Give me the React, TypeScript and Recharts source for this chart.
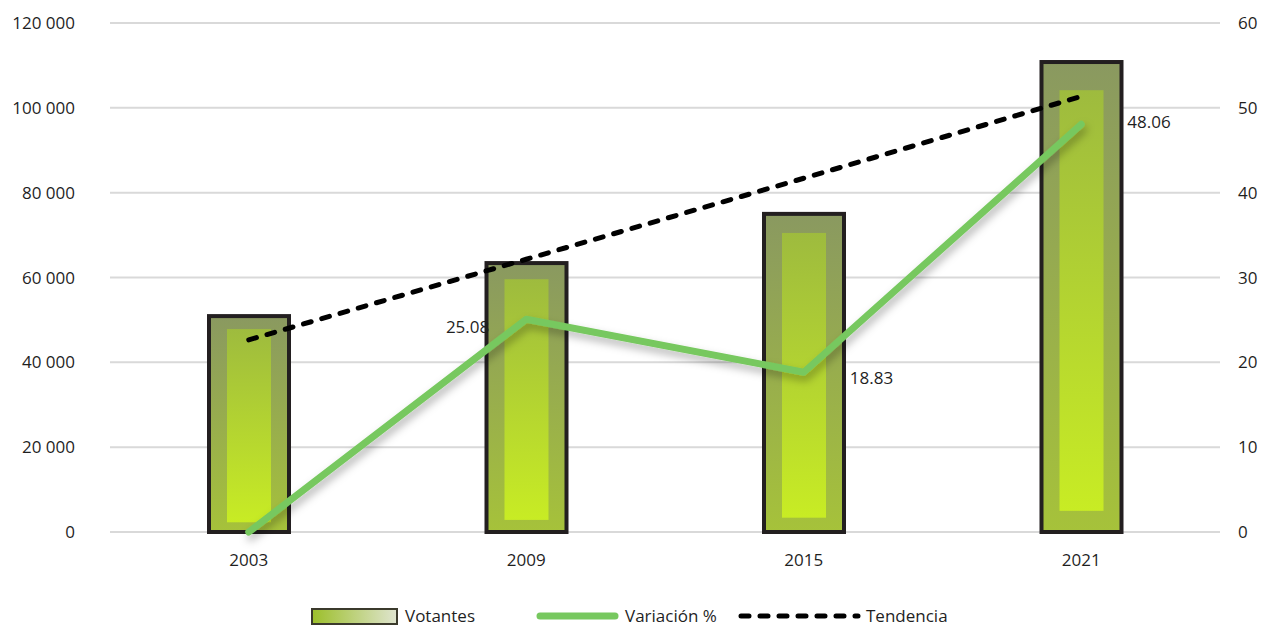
import { ComposedChart, Bar, Line, XAxis, YAxis, CartesianGrid, LabelList } from 'recharts';

const years = ['2003', '2009', '2015', '2021'];
const votantes = [50900, 63400, 75000, 110800];
const variacion = [0, 25.08, 18.83, 48.06];
const tendencia = [45300, 64300, 83400, 102700];
const leftTicks = [0, 20000, 40000, 60000, 80000, 100000, 120000];
const rightTicks = [0, 10, 20, 30, 40, 50, 60];

// which side each % label sits on (none for the first point), and its vertical nudge
const labelSide = ['none', 'left', 'right', 'right'];
const labelNudge = [0, 8, 6, -2];

const data = years.map((year, i) => ({
    year,
    votantes: votantes[i],
    variacion: variacion[i],
    tendencia: tendencia[i],
}));

const FONT = '"Open Sans", "Noto Sans", sans-serif';
const TEXT = '#1f1f1f';

const fmtThousands = (v: number) => v.toLocaleString('en-US').replace(/,/g, ' ');

function BarShape(props: any) {
    const { x, y, width, height } = props;
    if (!height || height <= 0) return null;
    const ix = x + width * 0.225;
    const iw = width * 0.55;
    const iy = y + height * 0.06;
    const ih = height * (1 - 0.06 - 0.045);
    return (
        <g>
            <rect x={x} y={y} width={width} height={height} fill="url(#outerGrad)" stroke="#231f20" strokeWidth={4} />
            <rect x={ix} y={iy} width={iw} height={ih} fill="url(#innerGrad)" />
        </g>
    );
}

function PctLabel(props: any) {
    const { x, y, value, index } = props;
    const side = labelSide[index];
    if (side === 'none') return null;
    const tx = side === 'left' ? x - 37 : x + 46;
    return (
        <text
            x={tx}
            y={y + labelNudge[index]}
            dy="0.35em"
            textAnchor={side === 'left' ? 'end' : 'start'}
            fontFamily={FONT}
            fontSize={17}
            fill={TEXT}
        >
            {Number(value).toFixed(2)}
        </text>
    );
}

function LegendBox() {
    const item = { position: 'absolute' as const, top: 604, fontFamily: FONT, fontSize: 17, color: TEXT, lineHeight: '24px' };
    return (
        <>
            <svg style={{ position: 'absolute', left: 0, top: 600, pointerEvents: 'none' }} width={1276} height={29}>
                <defs>
                    <linearGradient id="legGrad" x1="0" y1="0" x2="1" y2="0">
                        <stop offset="0%" stopColor="#9cbf2a" />
                        <stop offset="100%" stopColor="#dfe4cf" />
                    </linearGradient>
                </defs>
                <rect x={312} y={9} width={85} height={15} fill="url(#legGrad)" stroke="#3b3a2c" strokeWidth={2} />
                <line x1={540} y1={16} x2={615} y2={16} stroke="#77c85f" strokeWidth={7} strokeLinecap="round" />
                <line x1={741} y1={16} x2={858} y2={16} stroke="#000" strokeWidth={5} strokeDasharray="8 11" strokeLinecap="round" />
            </svg>
            <div style={{ ...item, left: 405 }}>Votantes</div>
            <div style={{ ...item, left: 625 }}>Variación %</div>
            <div style={{ ...item, left: 866 }}>Tendencia</div>
        </>
    );
}

export default function App() {
    return (
        <div style={{ position: 'absolute', left: 0, top: 0, width: 1276, height: 629, background: '#fff' }}>
            <ComposedChart
                width={1276}
                height={629}
                data={data}
                margin={{ top: 23, right: 0, bottom: 67, left: 0 }}
                barCategoryGap={0}
            >
                <defs>
                    <linearGradient id="outerGrad" x1="0" y1="0" x2="0" y2="1">
                        <stop offset="0%" stopColor="#8a9960" />
                        <stop offset="100%" stopColor="#a6c23a" />
                    </linearGradient>
                    <linearGradient id="innerGrad" x1="0" y1="0" x2="0" y2="1">
                        <stop offset="0%" stopColor="#9ebb3e" />
                        <stop offset="100%" stopColor="#c8ec24" />
                    </linearGradient>
                    <filter id="lineShadow" x="-10%" y="-10%" width="120%" height="130%">
                        <feDropShadow dx="2" dy="5" stdDeviation="4" floodColor="#000" floodOpacity="0.3" />
                    </filter>
                </defs>
                <CartesianGrid vertical={false} stroke="#d9d9d9" strokeWidth={2} yAxisId="left" />
                <XAxis
                    dataKey="year"
                    height={30}
                    axisLine={false}
                    tickLine={false}
                    tickSize={0}
                    tickMargin={22}
                    tick={{ fontFamily: FONT, fontSize: 17, fill: TEXT }}
                />
                <YAxis
                    yAxisId="left"
                    domain={[0, 120000]}
                    ticks={leftTicks}
                    width={110}
                    axisLine={false}
                    tickLine={false}
                    tickSize={0}
                    tickMargin={35}
                    tickFormatter={fmtThousands}
                    tick={{ fontFamily: FONT, fontSize: 17, fill: TEXT }}
                />
                <YAxis
                    yAxisId="right"
                    orientation="right"
                    domain={[0, 60]}
                    ticks={rightTicks}
                    width={56}
                    axisLine={false}
                    tickLine={false}
                    tickSize={0}
                    tickMargin={18}
                    tick={{ fontFamily: FONT, fontSize: 17, fill: TEXT, textAnchor: 'start' }}
                />
                <Bar
                    yAxisId="left"
                    dataKey="votantes"
                    name="Votantes"
                    barSize={80}
                    shape={<BarShape />}
                    isAnimationActive={false}
                />
                <Line
                    yAxisId="right"
                    dataKey="variacion"
                    name="Variación %"
                    type="linear"
                    stroke="#77c85f"
                    strokeWidth={7}
                    strokeLinecap="round"
                    strokeLinejoin="round"
                    dot={false}
                    activeDot={false}
                    filter="url(#lineShadow)"
                    isAnimationActive={false}
                >
                    <LabelList dataKey="variacion" content={<PctLabel />} />
                </Line>
                <Line
                    yAxisId="left"
                    dataKey="tendencia"
                    name="Tendencia"
                    type="linear"
                    stroke="#000000"
                    strokeWidth={5}
                    strokeDasharray="8 11"
                    strokeLinecap="round"
                    dot={false}
                    activeDot={false}
                    isAnimationActive={false}
                />
            </ComposedChart>
            <LegendBox />
        </div>
    );
}
